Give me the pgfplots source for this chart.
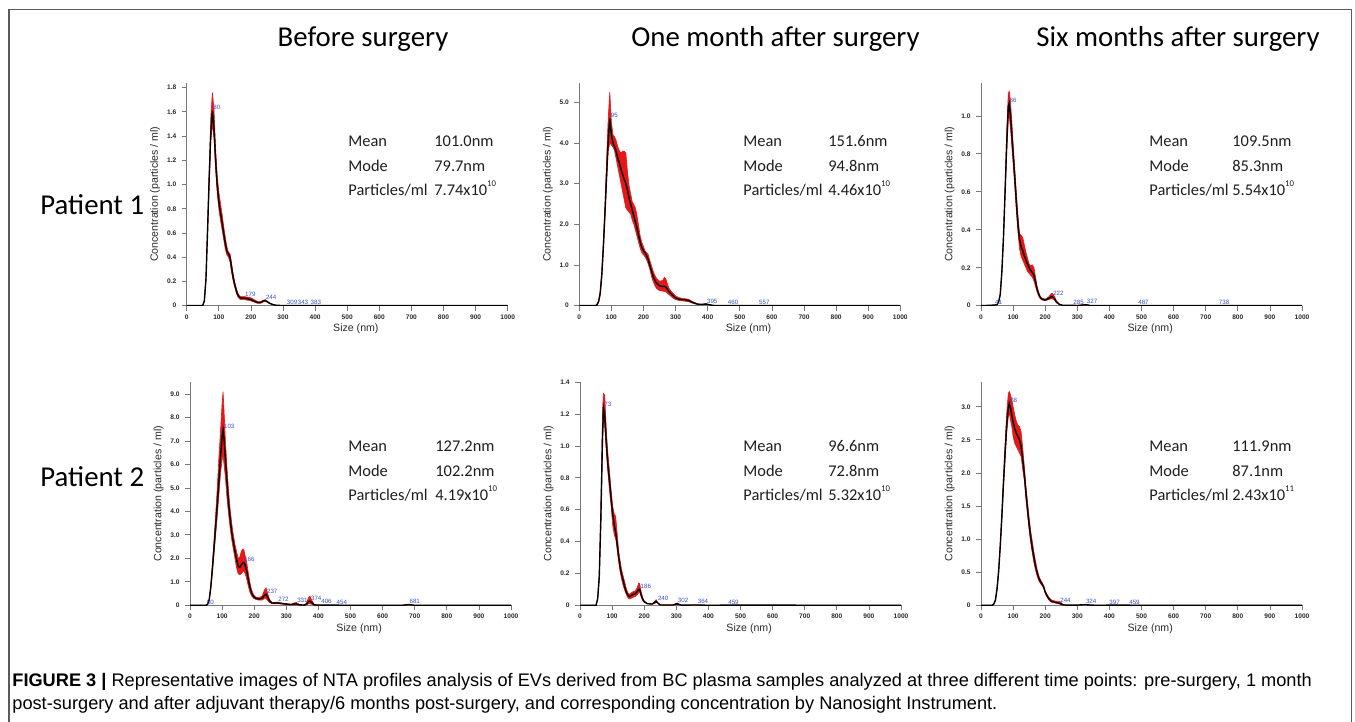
\documentclass[border=0pt]{standalone}
\usepackage{pgfplots}
\pgfplotsset{compat=1.18}
\usepackage{pgfplotstable}
\usepackage{fontspec}
\setmainfont{Carlito}
\newfontfamily\arial{Liberation Sans}

\definecolor{bandred}{RGB}{232,22,22}
\definecolor{lblblue}{RGB}{55,80,200}
\definecolor{axgray}{RGB}{120,120,120}
\definecolor{ticktext}{RGB}{40,40,40}
\definecolor{framegray}{RGB}{90,90,90}
\definecolor{stattext}{RGB}{30,30,30}

% size (nm), mean concentration, lower and upper envelope
\pgfplotstableread{
x m lo hi
0 0 0 0
45 0 0 0
50 0.003 0.003 0.003
55 0.04 0.035 0.045
60 0.22 0.2 0.24
65 0.62 0.58 0.68
70 1.05 0.98 1.12
75 1.42 1.35 1.55
80 1.61 1.5 1.76
85 1.47 1.38 1.62
90 1.2 1.12 1.3
95 1.0 0.93 1.08
100 0.86 0.8 0.94
105 0.77 0.71 0.85
110 0.69 0.63 0.76
115 0.6 0.55 0.66
120 0.52 0.47 0.57
125 0.45 0.42 0.49
130 0.43 0.4 0.44
135 0.4 0.36 0.43
140 0.31 0.27 0.35
145 0.23 0.2 0.26
150 0.17 0.15 0.19
155 0.12 0.1 0.14
160 0.085 0.07 0.1
165 0.068 0.055 0.08
170 0.062 0.05 0.075
179 0.062 0.05 0.075
190 0.058 0.045 0.07
200 0.05 0.04 0.065
210 0.038 0.03 0.05
220 0.027 0.02 0.035
230 0.026 0.02 0.032
238 0.038 0.03 0.045
244 0.042 0.035 0.05
250 0.035 0.03 0.04
258 0.02 0.018 0.022
270 0.008 0.008 0.008
280 0.003 0.003 0.003
300 0.001 0.001 0.001
320 0 0 0
1000 0 0 0
}\tabA

\pgfplotstableread{
x m lo hi
0 0 0 0
50 0 0 0
55 0.02 0.02 0.02
60 0.1 0.08 0.12
65 0.3 0.25 0.35
70 0.75 0.68 0.85
75 1.45 1.35 1.6
80 2.3 2.15 2.5
85 3.2 3.0 3.6
90 4.05 3.8 4.6
95 4.6 4.0 5.25
100 4.2 3.95 4.5
105 4.0 3.9 4.2
110 3.9 3.8 4.15
115 3.78 3.6 4.05
120 3.62 3.4 3.9
125 3.5 3.2 3.8
130 3.35 3.0 3.75
135 3.22 2.8 3.8
140 3.1 2.6 3.8
145 3.0 2.4 3.75
150 2.85 2.35 3.3
155 2.65 2.3 2.95
160 2.5 2.25 2.75
165 2.35 2.1 2.55
170 2.2 2.0 2.48
175 2.05 1.85 2.4
180 1.9 1.7 2.2
185 1.72 1.55 1.95
190 1.55 1.4 1.7
195 1.43 1.3 1.55
200 1.35 1.25 1.45
205 1.3 1.2 1.35
210 1.22 1.12 1.3
215 1.12 1.02 1.25
220 0.98 0.88 1.1
225 0.85 0.72 0.98
230 0.72 0.6 0.85
235 0.63 0.5 0.75
240 0.56 0.43 0.68
250 0.49 0.37 0.6
260 0.47 0.36 0.62
265 0.48 0.35 0.7
270 0.45 0.34 0.65
275 0.4 0.3 0.52
280 0.34 0.27 0.42
290 0.26 0.2 0.32
300 0.19 0.15 0.24
310 0.16 0.13 0.2
320 0.15 0.12 0.18
330 0.145 0.11 0.17
340 0.13 0.1 0.16
350 0.09 0.07 0.11
360 0.06 0.045 0.075
370 0.035 0.03 0.045
380 0.03 0.025 0.035
395 0.04 0.035 0.05
410 0.015 0.015 0.015
420 0.005 0.005 0.005
440 0 0 0
460 0.003 0.003 0.003
480 0 0 0
557 0.003 0.003 0.003
580 0 0 0
1000 0 0 0
}\tabB

\pgfplotstableread{
x m lo hi
0 0 0 0
41 0.003 0.003 0.003
50 0.005 0.005 0.005
55 0.02 0.02 0.02
60 0.06 0.055 0.065
65 0.18 0.17 0.19
70 0.36 0.34 0.38
75 0.6 0.57 0.64
80 0.85 0.8 0.92
85 1.05 0.98 1.12
88 1.067 1.0 1.13
92 1.0 0.93 1.07
96 0.9 0.84 0.97
100 0.8 0.75 0.86
105 0.68 0.63 0.73
110 0.55 0.5 0.6
115 0.43 0.39 0.48
120 0.35 0.3 0.38
125 0.31 0.26 0.37
130 0.29 0.24 0.36
135 0.265 0.22 0.32
140 0.24 0.2 0.28
145 0.22 0.18 0.25
150 0.2 0.17 0.22
155 0.185 0.16 0.21
160 0.175 0.15 0.215
165 0.16 0.13 0.2
170 0.125 0.1 0.15
175 0.085 0.07 0.1
180 0.06 0.05 0.07
185 0.042 0.036 0.048
190 0.035 0.03 0.04
200 0.03 0.026 0.034
210 0.038 0.032 0.045
218 0.046 0.036 0.062
222 0.048 0.037 0.066
228 0.04 0.03 0.052
235 0.02 0.015 0.025
245 0.006 0.006 0.006
255 0.002 0.002 0.002
285 0.002 0.002 0.002
300 0.001 0.001 0.001
327 0.005 0.004 0.007
340 0.001 0.001 0.001
360 0 0 0
487 0.001 0.001 0.001
738 0.001 0.001 0.001
1000 0 0 0
}\tabC

\pgfplotstableread{
x m lo hi
0 0 0 0
50 0 0 0
55 0.05 0.05 0.05
60 0.25 0.22 0.28
65 0.8 0.7 0.9
70 1.6 1.4 1.8
75 2.5 2.2 2.8
80 3.4 3.0 3.9
85 4.3 3.8 5.0
90 5.3 4.7 6.3
95 6.3 5.6 7.4
100 7.2 6.2 8.6
103 7.47 6.4 9.1
106 7.1 6.0 8.3
110 6.3 5.5 7.1
115 5.3 4.6 5.9
120 4.4 3.9 4.9
125 3.7 3.3 4.1
130 3.1 2.8 3.5
135 2.7 2.4 3.0
140 2.3 2.0 2.6
145 1.95 1.6 2.3
150 1.68 1.35 2.0
155 1.62 1.3 2.05
160 1.72 1.35 2.3
165 1.82 1.45 2.4
168 1.82 1.45 2.35
172 1.7 1.35 2.1
177 1.45 1.1 1.8
182 1.08 0.8 1.35
187 0.75 0.55 0.95
192 0.52 0.4 0.65
198 0.37 0.3 0.45
205 0.3 0.25 0.35
215 0.27 0.22 0.32
225 0.3 0.22 0.4
232 0.43 0.3 0.65
237 0.47 0.3 0.75
242 0.35 0.2 0.5
248 0.18 0.12 0.25
255 0.1 0.07 0.13
265 0.09 0.06 0.12
272 0.1 0.07 0.14
285 0.08 0.05 0.1
300 0.05 0.03 0.07
315 0.03 0.02 0.05
325 0.05 0.03 0.1
331 0.06 0.03 0.12
340 0.02 0.01 0.04
355 0.01 0.01 0.01
362 0.04 0.02 0.08
370 0.17 0.06 0.35
374 0.18 0.06 0.38
380 0.1 0.04 0.2
387 0.02 0.01 0.04
395 0.01 0.01 0.01
406 0.012 0.012 0.012
420 0.005 0.005 0.005
454 0.008 0.008 0.008
470 0.002 0.002 0.002
500 0 0 0
660 0 0 0
681 0.03 0.025 0.035
700 0 0 0
1000 0 0 0
}\tabD

\pgfplotstableread{
x m lo hi
0 0 0 0
50 0 0 0
55 0.04 0.04 0.04
60 0.18 0.16 0.2
65 0.55 0.5 0.62
70 1.05 0.98 1.2
73 1.24 1.18 1.33
77 1.2 1.12 1.32
82 1.02 0.96 1.1
87 0.88 0.83 0.95
92 0.78 0.72 0.84
97 0.67 0.62 0.72
102 0.57 0.5 0.62
107 0.5 0.44 0.57
111 0.46 0.42 0.56
115 0.4 0.36 0.47
120 0.31 0.28 0.35
125 0.24 0.21 0.28
130 0.19 0.16 0.22
135 0.15 0.12 0.18
140 0.11 0.09 0.14
145 0.08 0.065 0.1
150 0.06 0.045 0.075
155 0.055 0.04 0.07
160 0.062 0.045 0.078
165 0.068 0.05 0.085
172 0.072 0.055 0.09
178 0.085 0.065 0.11
183 0.1 0.08 0.14
186 0.1 0.08 0.135
190 0.07 0.055 0.09
195 0.04 0.03 0.05
200 0.023 0.018 0.028
210 0.01 0.01 0.01
225 0.008 0.008 0.008
237 0.025 0.015 0.035
242 0.015 0.015 0.015
250 0.002 0.002 0.002
290 0.002 0.002 0.002
302 0.01 0.006 0.015
315 0.001 0.001 0.001
364 0.002 0.002 0.002
400 0 0 0
459 0.001 0.001 0.001
1000 0 0 0
}\tabE

\pgfplotstableread{
x m lo hi
0 0 0 0
35 0 0 0
40 0.02 0.02 0.02
45 0.08 0.07 0.09
50 0.25 0.23 0.27
55 0.52 0.48 0.56
60 0.9 0.86 0.95
65 1.35 1.28 1.42
70 1.85 1.76 1.95
75 2.3 2.2 2.45
80 2.72 2.6 2.9
85 2.98 2.85 3.2
88 3.05 2.9 3.23
92 2.98 2.8 3.18
96 2.87 2.7 3.1
100 2.77 2.55 3.0
105 2.67 2.45 2.88
110 2.6 2.4 2.78
115 2.55 2.35 2.72
120 2.5 2.3 2.7
125 2.4 2.25 2.62
130 2.2 2.05 2.38
135 1.98 1.88 2.1
140 1.7 1.6 1.8
145 1.45 1.36 1.56
150 1.22 1.13 1.32
155 1.02 0.94 1.12
160 0.86 0.78 0.96
165 0.72 0.64 0.8
170 0.59 0.53 0.66
175 0.49 0.44 0.54
180 0.41 0.37 0.45
185 0.36 0.33 0.39
190 0.32 0.3 0.35
195 0.28 0.26 0.3
200 0.2 0.18 0.22
205 0.15 0.13 0.17
210 0.11 0.09 0.13
215 0.08 0.06 0.1
220 0.06 0.045 0.08
230 0.045 0.035 0.065
240 0.035 0.025 0.06
244 0.03 0.02 0.06
250 0.02 0.012 0.04
256 0.006 0.006 0.006
270 0.002 0.002 0.002
300 0.003 0.003 0.003
324 0.01 0.008 0.012
345 0.002 0.002 0.002
370 0 0 0
397 0.002 0.002 0.002
459 0.002 0.002 0.002
480 0 0 0
1000 0 0 0
}\tabF

\pgfplotsset{
  nta/.style={
    scale only axis, width=160.5pt, height=111.5pt,
    anchor=south west,
    xmin=0, xmax=1000, ymin=0,
    axis lines=left,
    axis line style={-, draw=axgray, line width=0.5pt},
    tick align=outside, major tick length=2.5pt,
    tick style={draw=axgray, line width=0.4pt},
    xtick={0,100,200,300,400,500,600,700,800,900,1000},
    xticklabels={0,100,200,300,400,500,600,700,800,900,1000},
    tick label style={font=\arial\bfseries\fontsize{3.3}{3.6}\selectfont,
      text=ticktext, inner sep=0.5pt},
    xticklabel style={yshift=-1.3pt},
    yticklabel style={xshift=-2pt},
    xlabel={Size (nm)},
    ylabel={Concentration (particles / ml)},
    label style={font=\arial\fontsize{5.3}{6}\selectfont, text=ticktext},
    xlabel style={at={(axis description cs:0.527,-0.105)}, anchor=center},
    ylabel style={at={(axis description cs:-0.098,0.5)}, anchor=center},
  },
}
\tikzset{
  lbl/.style={anchor=south west, inner sep=0.3pt,
    font=\arial\fontsize{3.1}{3.5}\selectfont, text=lblblue},
}

% band: lower envelope stacked with the (upper - lower) width; mean curve on top
\newcommand{\ntacurve}[1]{%
  \addplot[draw=none, forget plot, stack plots=y] table[x=x, y=lo] {#1};
  \addplot[fill=bandred, draw=bandred, line width=0.3pt, forget plot, stack plots=y]
    table[x=x, y expr=\thisrow{hi}-\thisrow{lo}] {#1} \closedcycle;
  \addplot[black, line width=0.7pt, forget plot, stack plots=false] table[x=x, y=m] {#1};
}

% "x10" exponent set small and raised
\newcommand{\ex}[1]{\raisebox{4.6pt}{\fontsize{4.4}{4.4}\selectfont #1}}

\newcommand{\stats}[6]{%
  % #1,#2: left x of label and value column; #3: top baseline; #4..#6 values
  \begin{scope}[font=\fontsize{8.2}{9}\selectfont, text=stattext]
    \node[anchor=base west, inner sep=0] at (#1, #3) {Mean};
    \node[anchor=base west, inner sep=0] at (#2, #3) {#4};
    \node[anchor=base west, inner sep=0] at (#1, #3-12.3pt) {Mode};
    \node[anchor=base west, inner sep=0] at (#2, #3-12.3pt) {#5};
    \node[anchor=base west, inner sep=0] at (#1, #3-24.5pt) {Particles/ml};
    \node[anchor=base west, inner sep=0] at (#2, #3-24.5pt) {#6};
  \end{scope}
}

\begin{document}
\begin{tikzpicture}
\path[use as bounding box] (0,0) rectangle (677.5pt,361pt);
\draw[framegray, line width=0.75pt] (4.5pt,0) -- (4.5pt,356.25pt) -- (675.75pt,356.25pt) -- (675.75pt,0);

% column and row headings
\begin{scope}[font=\fontsize{14.4}{17}\selectfont, text=black]
  \node[anchor=base] at (181.5pt,337.5pt) {Before surgery};
  \node[anchor=base] at (387.75pt,337.5pt) {One month after surgery};
  \node[anchor=base] at (589pt,337.5pt) {Six months after surgery};
  \node[anchor=base west, inner sep=0] at (20pt,253.5pt) {Patient 1};
  \node[anchor=base west, inner sep=0] at (20pt,117.5pt) {Patient 2};
\end{scope}

% Patient 1, before surgery
\begin{axis}[nta, at={(93.35pt,208.15pt)}, ymax=1.84,
  ytick={0,0.2,0.4,0.6,0.8,1.0,1.2,1.4,1.6,1.8},
  yticklabels={0,0.2,0.4,0.6,0.8,1.0,1.2,1.4,1.6,1.8}]
  \ntacurve{\tabA}
  \node[lbl] at (axis cs:80,1.61) {80};
  \node[lbl] at (axis cs:179,0.065) {179};
  \node[lbl] at (axis cs:244,0.045) {244};
  \node[lbl] at (axis cs:309,0.004) {309};
  \node[lbl] at (axis cs:343,0.004) {343};
  \node[lbl] at (axis cs:383,0.004) {383};
\end{axis}

% Patient 1, one month after surgery
\begin{axis}[nta, at={(289.65pt,208.15pt)}, ymax=5.48,
  ytick={0,1,2,3,4,5}, yticklabels={0,1.0,2.0,3.0,4.0,5.0}]
  \ntacurve{\tabB}
  \node[lbl] at (axis cs:95,4.6) {95};
  \node[lbl] at (axis cs:395,0.04) {395};
  \node[lbl] at (axis cs:460,0.003) {460};
  \node[lbl] at (axis cs:557,0.003) {557};
\end{axis}

% Patient 1, six months after surgery
\begin{axis}[nta, at={(490.5pt,208.15pt)}, ymax=1.175,
  ytick={0,0.2,0.4,0.6,0.8,1.0}, yticklabels={0,0.2,0.4,0.6,0.8,1.0}]
  \ntacurve{\tabC}
  \node[lbl] at (axis cs:41,0.003) {41};
  \node[lbl] at (axis cs:86,1.067) {86};
  \node[lbl] at (axis cs:222,0.048) {222};
  \node[lbl] at (axis cs:285,0.002) {285};
  \node[lbl] at (axis cs:327,0.005) {327};
  \node[lbl] at (axis cs:487,0.001) {487};
  \node[lbl] at (axis cs:738,0.001) {738};
\end{axis}

% Patient 2, before surgery
\begin{axis}[nta, at={(95pt,58.35pt)}, ymax=9.5,
  ytick={0,1,2,3,4,5,6,7,8,9},
  yticklabels={0,1.0,2.0,3.0,4.0,5.0,6.0,7.0,8.0,9.0}]
  \ntacurve{\tabD}
  \node[lbl] at (axis cs:50,0.0) {50};
  \node[lbl] at (axis cs:103,7.47) {103};
  \node[lbl] at (axis cs:166,1.82) {166};
  \node[lbl] at (axis cs:237,0.47) {237};
  \node[lbl] at (axis cs:272,0.1) {272};
  \node[lbl] at (axis cs:331,0.06) {331};
  \node[lbl] at (axis cs:374,0.18) {374};
  \node[lbl] at (axis cs:406,0.012) {406};
  \node[lbl] at (axis cs:454,0.008) {454};
  \node[lbl] at (axis cs:681,0.03) {681};
\end{axis}

% Patient 2, one month after surgery
\begin{axis}[nta, at={(290pt,58.35pt)}, ymax=1.4,
  ytick={0,0.2,0.4,0.6,0.8,1.0,1.2,1.4},
  yticklabels={0,0.2,0.4,0.6,0.8,1.0,1.2,1.4}]
  \ntacurve{\tabE}
  \node[lbl] at (axis cs:73,1.24) {73};
  \node[lbl] at (axis cs:186,0.1) {186};
  \node[lbl] at (axis cs:240,0.025) {240};
  \node[lbl] at (axis cs:302,0.01) {302};
  \node[lbl] at (axis cs:364,0.002) {364};
  \node[lbl] at (axis cs:459,0.001) {459};
\end{axis}

% Patient 2, six months after surgery
\begin{axis}[nta, at={(490.5pt,58.35pt)}, ymax=3.37,
  ytick={0,0.5,1.0,1.5,2.0,2.5,3.0},
  yticklabels={0,0.5,1.0,1.5,2.0,2.5,3.0}]
  \ntacurve{\tabF}
  \node[lbl] at (axis cs:88,3.05) {88};
  \node[lbl] at (axis cs:244,0.03) {244};
  \node[lbl] at (axis cs:324,0.01) {324};
  \node[lbl] at (axis cs:397,0.002) {397};
  \node[lbl] at (axis cs:459,0.002) {459};
\end{axis}

% summary statistics
\stats{174pt}{217pt}{287.5pt}{101.0nm}{79.7nm}{7.74x10\ex{10}}
\stats{371.5pt}{414pt}{287.5pt}{151.6nm}{94.8nm}{4.46x10\ex{10}}
\stats{574.5pt}{616pt}{287.5pt}{109.5nm}{85.3nm}{5.54x10\ex{10}}
\stats{174pt}{217.5pt}{135pt}{127.2nm}{102.2nm}{4.19x10\ex{10}}
\stats{371.5pt}{414pt}{135pt}{96.6nm}{72.8nm}{5.32x10\ex{10}}
\stats{574.5pt}{616pt}{135pt}{111.9nm}{87.1nm}{2.43x10\ex{11}}

% caption
\begin{scope}[font=\arial\fontsize{9.1}{10}\selectfont, text=black]
  \node[anchor=base west, inner sep=0] at (6pt,17.5pt) {\textbf{FIGURE 3 |} Representative images of NTA profiles analysis of EVs derived from BC plasma samples analyzed at three different time points: pre-surgery, 1 month};
  \node[anchor=base west, inner sep=0] at (6pt,6.3pt) {post-surgery and after adjuvant therapy/6 months post-surgery, and corresponding concentration by Nanosight Instrument.};
\end{scope}
\end{tikzpicture}
\end{document}
